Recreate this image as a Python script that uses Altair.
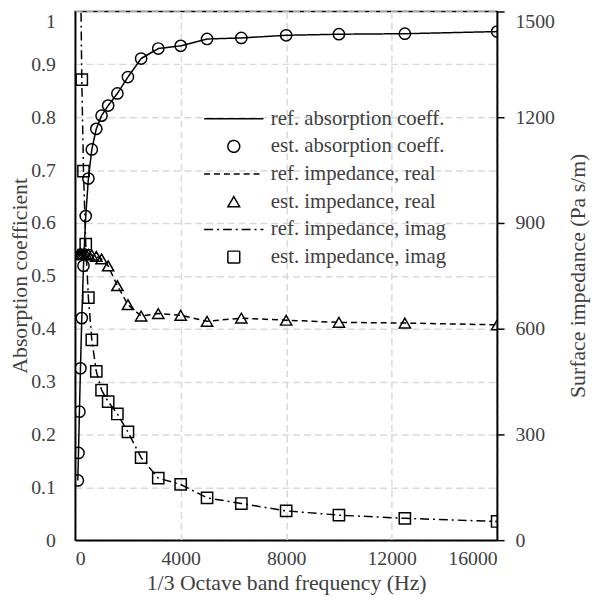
import altair as alt
import pandas as pd

# 1/3 octave band centre frequencies (Hz)
freq = [100, 125, 160, 200, 250, 315, 400, 500, 630, 800, 1000, 1250, 1600,
        2000, 2500, 3150, 4000, 5000, 6300, 8000, 10000, 12500, 16000]

# absorption coefficient
abs_ref = [0.113, 0.165, 0.243, 0.325, 0.420, 0.519, 0.613, 0.684, 0.739, 0.778, 0.803, 0.822,
           0.845, 0.876, 0.911, 0.930, 0.935, 0.948, 0.950, 0.955, 0.957, 0.958, 0.962]
abs_est = [0.113, 0.165, 0.243, 0.325, 0.420, 0.519, 0.613, 0.684, 0.739, 0.778, 0.803, 0.822,
           0.845, 0.876, 0.911, 0.930, 0.935, 0.948, 0.950, 0.955, 0.957, 0.958, 0.962]

# surface impedance, real part (Pa s/m)
real_ref = [810, 810, 811, 812, 812, 812, 812, 811, 809, 805, 798, 778, 722,
            668, 636, 643, 638, 621, 630, 624, 618, 616, 611]
real_est = [810, 810, 811, 812, 812, 812, 812, 811, 809, 805, 798, 778, 722,
            668, 636, 643, 638, 621, 630, 624, 618, 616, 611]

# surface impedance, imaginary part (Pa s/m) - lowest bands run off the top of the chart
imag_ref = [4000, 3100, 2300, 1650, 1307, 1047, 840, 688, 568, 479, 426, 393, 358,
            307, 234, 176, 158, 120, 104, 83, 71, 62, 53]
imag_est = [4000, 3100, 2300, 1650, 1307, 1047, 840, 688, 568, 479, 426, 393, 358,
            307, 234, 176, 158, 120, 104, 83, 71, 62, 53]

series = ["ref. absorption coeff.", "est. absorption coeff.",
          "ref. impedance, real", "est. impedance, real",
          "ref. impedance, imag", "est. impedance, imag"]

x_ticks = [0, 4000, 8000, 12000, 16000]
left_ticks = [round(i / 10, 1) for i in range(11)]
right_ticks = [0, 300, 600, 900, 1200, 1500]


def frame(vals, name):
    return pd.DataFrame({"f": freq, "v": vals, "series": name})


abs_line_df = frame(abs_ref, series[0])
abs_pt_df = frame(abs_est, series[1])
imp_line_df = pd.concat([frame(real_ref, series[2]), frame(imag_ref, series[4])])
imp_pt_df = pd.concat([frame(real_est, series[3]), frame(imag_est, series[5])])

FONT = "Liberation Serif"
TXT = "#404040"
LINE = "M-5,0H5"

shape_scale = alt.Scale(domain=series,
                        range=[LINE, "circle", LINE, "triangle-up", LINE, "square"])
dash_scale = alt.Scale(domain=series,
                       range=[[1, 0], [1, 0], [6, 4], [1, 0], [9, 4, 2, 4], [1, 0]])

legend = alt.Legend(title=None, orient="none", legendX=150, legendY=98,
                    labelFont=FONT, labelFontSize=21, labelColor=TXT, labelLimit=0,
                    symbolSize=144, symbolStrokeWidth=1.5, symbolStrokeColor="black",
                    symbolFillColor="transparent", labelOffset=27, rowPadding=6, padding=0)

x_enc = alt.X("f:Q", scale=alt.Scale(domain=[0, 16000], nice=False),
              axis=alt.Axis(values=x_ticks, format="d", title="1/3 Octave band frequency (Hz)",
                            ticks=False, tickSize=0, labelPadding=9, grid=True,
                            titleY=43, titleBaseline="middle"))

yA = alt.Y("v:Q", scale=alt.Scale(domain=[0, 1], nice=False),
           axis=alt.Axis(orient="left", values=left_ticks, format="~g",
                         title="Absorption coefficient", ticks=False, tickSize=0,
                         labelPadding=20, grid=True,
                         labelBaseline={"condition": {"test": "datum.value == 1", "value": "top"},
                                        "value": "middle"},
                         titleX=-56, titleY=267, titleAngle=270, titleBaseline="middle"))

yB = alt.Y("v:Q", scale=alt.Scale(domain=[0, 1500], nice=False),
           axis=alt.Axis(orient="right", values=right_ticks, format="d",
                         title="Surface impedance (Pa s/m)", ticks=True, tickSize=7,
                         labelPadding=11, grid=False,
                         labelBaseline={"condition": {"test": "datum.value == 1500", "value": "top"},
                                        "value": "middle"},
                         titleX=81, titleY=267, titleAngle=270, titleBaseline="middle"))

pt_props = dict(filled=False, color="black", size=130, strokeWidth=1.5, opacity=1, clip=True)

abs_line = alt.Chart(abs_line_df).mark_line(color="black", strokeWidth=1.5, clip=True).encode(
    x=x_enc, y=yA,
    strokeDash=alt.StrokeDash("series:N", scale=dash_scale, legend=legend))
abs_pts = alt.Chart(abs_pt_df).mark_point(**pt_props).encode(
    x=x_enc, y=yA,
    shape=alt.Shape("series:N", scale=shape_scale, legend=legend))

imp_line = alt.Chart(imp_line_df).mark_line(color="black", strokeWidth=1.5, clip=True).encode(
    x=x_enc, y=yB,
    strokeDash=alt.StrokeDash("series:N", scale=dash_scale, legend=legend))
imp_pts = alt.Chart(imp_pt_df).mark_point(**pt_props).encode(
    x=x_enc, y=yB,
    shape=alt.Shape("series:N", scale=shape_scale, legend=legend))

left = alt.layer(abs_line, abs_pts)
right = alt.layer(imp_line, imp_pts)

chart = alt.layer(left, right).resolve_scale(y="independent").properties(
    width=427, height=535,
    autosize=alt.AutoSizeParams(type="none"),
    padding={"left": 68, "top": 0, "right": 96, "bottom": 56},
).configure_view(
    stroke="black", strokeWidth=1.5
).configure_axis(
    domainColor="black", domainWidth=1.5,
    gridColor="#d9d9d9", gridDash=[7, 4], gridWidth=1.5,
    labelFont=FONT, labelFontSize=20, labelColor=TXT,
    titleFont=FONT, titleFontSize=22, titleColor=TXT, titleFontWeight="normal",
    tickColor="black", tickWidth=1.5
)

chart.save("out.html", embed_options={"renderer": "svg", "actions": False})
